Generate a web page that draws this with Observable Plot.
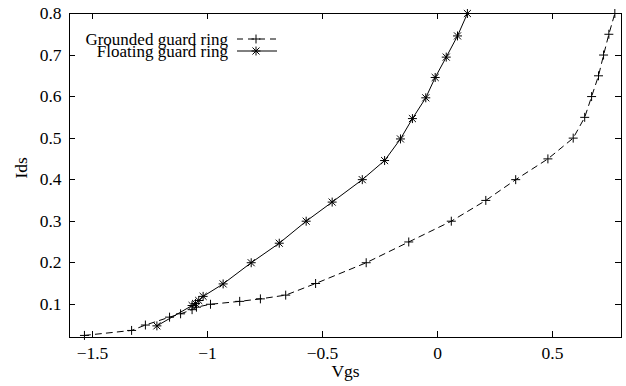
<!DOCTYPE html>
<html><head><meta charset="utf-8">
<script src="https://cdn.jsdelivr.net/npm/d3@7"></script>
<script src="https://cdn.jsdelivr.net/npm/@observablehq/plot@0.6"></script>
<style>body{margin:0;background:#fff} svg{display:block}</style>
</head><body><div id="chart"></div>
<script>
const seriesNames = ["Grounded guard ring", "Floating guard ring"];
const groundedVgs = [-1.535, -1.33, -1.27, -1.165, -1.117, -1.067, -1.048, -0.987, -0.86, -0.77, -0.66, -0.53, -0.31, -0.125, 0.06, 0.21, 0.34, 0.48, 0.59, 0.64, 0.67, 0.70, 0.722, 0.745, 0.771];
const groundedIds = [0.025, 0.037, 0.05, 0.069, 0.077, 0.087, 0.093, 0.10, 0.107, 0.113, 0.122, 0.15, 0.20, 0.25, 0.30, 0.35, 0.40, 0.45, 0.50, 0.55, 0.60, 0.65, 0.70, 0.75, 0.80];
const floatingVgs = [-1.22, -1.067, -1.052, -1.038, -1.019, -0.932, -0.81, -0.688, -0.571, -0.458, -0.327, -0.23, -0.161, -0.109, -0.051, -0.01, 0.038, 0.087, 0.13];
const floatingIds = [0.048, 0.097, 0.102, 0.109, 0.119, 0.149, 0.20, 0.247, 0.30, 0.346, 0.40, 0.446, 0.498, 0.547, 0.597, 0.646, 0.695, 0.746, 0.80];
const xTicks = [-1.5, -1, -0.5, 0, 0.5];
const xTickLabels = ["−1.5", "−1", "−0.5", "0", "0.5"];
const yTicks = [0.1, 0.2, 0.3, 0.4, 0.5, 0.6, 0.7, 0.8];
const yTickLabels = ["0.1", "0.2", "0.3", "0.4", "0.5", "0.6", "0.7", "0.8"];
const xDomain = [-1.6, 0.8];
const yDomain = [0.02, 0.8];
const xLabel = "Vgs";
const yLabel = "Ids";

const grounded = groundedVgs.map((v, i) => ({Vgs: v, Ids: groundedIds[i]}));
const floating = floatingVgs.map((v, i) => ({Vgs: v, Ids: floatingIds[i]}));

const font = "Liberation Serif, Times New Roman, serif";
const dash = "6,5";
const tickLen = 6;

function frameTicks(index, scales, values, dims) {
  const {width, height, marginLeft, marginRight, marginTop, marginBottom} = dims;
  const x0 = marginLeft, x1 = width - marginRight, y0 = marginTop, y1 = height - marginBottom;
  const g = d3.create("svg:g").attr("stroke", "black").attr("stroke-width", 1).attr("fill", "none");
  for (const t of xTicks) {
    const x = Math.round(scales.x(t)) + 0.5;
    g.append("line").attr("x1", x).attr("x2", x).attr("y1", y1).attr("y2", y1 - tickLen);
    g.append("line").attr("x1", x).attr("x2", x).attr("y1", y0).attr("y2", y0 + tickLen);
  }
  for (const t of yTicks) {
    const y = Math.round(scales.y(t)) + 0.5;
    g.append("line").attr("y1", y).attr("y2", y).attr("x1", x0).attr("x2", x0 + tickLen);
    g.append("line").attr("y1", y).attr("y2", y).attr("x1", x1).attr("x2", x1 - tickLen);
  }
  return g.node();
}

function legend(index, scales, values, dims) {
  const {marginLeft, marginTop} = dims;
  const g = d3.create("svg:g").attr("font-family", font).attr("font-size", 17);
  const textX = marginLeft + 159, lx1 = marginLeft + 168, lx2 = marginLeft + 208, mx = marginLeft + 187;
  const rows = [marginTop + 26, marginTop + 38];
  seriesNames.forEach((name, i) => {
    const y = rows[i];
    g.append("text").attr("x", textX).attr("y", y + 6).attr("text-anchor", "end").attr("fill", "black").text(name);
    g.append("line").attr("x1", lx1).attr("x2", lx2).attr("y1", y).attr("y2", y)
      .attr("stroke", "black").attr("stroke-dasharray", i === 0 ? dash : null);
    const s = g.append("g").attr("transform", `translate(${mx},${y})`).attr("stroke", "black").attr("fill", "none");
    s.append("path").attr("d", d3.symbol(d3.symbolPlus, 28)());
    if (i === 1) s.append("path").attr("d", d3.symbol(d3.symbolTimes, 34)());
  });
  return g.node();
}

const plot = Plot.plot({
  width: 626,
  height: 386,
  marginLeft: 69,
  marginRight: 5,
  marginTop: 13,
  marginBottom: 49,
  style: {fontFamily: font, fontSize: "17px", color: "black", background: "white"},
  x: {domain: xDomain, label: null},
  y: {domain: yDomain, label: null},
  marks: [
    Plot.axisX({ticks: xTicks, tickFormat: d => xTickLabels[xTicks.indexOf(d)], tickSize: 0, tickPadding: 9, label: null, fontSize: 17.5, fontFamily: font}),
    Plot.axisY({ticks: yTicks, tickFormat: d => yTickLabels[yTicks.indexOf(d)], tickSize: 0, tickPadding: 8, label: null, fontSize: 17.5, fontFamily: font}),
    Plot.frame({stroke: "black", strokeWidth: 1}),
    frameTicks,
    Plot.line(grounded, {x: "Vgs", y: "Ids", stroke: "black", strokeWidth: 1, strokeDasharray: dash}),
    Plot.dot(grounded, {x: "Vgs", y: "Ids", symbol: "plus", r: 3, stroke: "black", strokeWidth: 1}),
    Plot.line(floating, {x: "Vgs", y: "Ids", stroke: "black", strokeWidth: 1}),
    Plot.dot(floating, {x: "Vgs", y: "Ids", symbol: "plus", r: 3, stroke: "black", strokeWidth: 1}),
    Plot.dot(floating, {x: "Vgs", y: "Ids", symbol: "times", r: 3.3, stroke: "black", strokeWidth: 1}),
    Plot.text([xLabel], {frameAnchor: "bottom", dy: 39, text: d => d, fontSize: 17.5, fontFamily: font, fill: "black"}),
    Plot.text([yLabel], {frameAnchor: "left", dx: -48, dy: 3, rotate: -90, text: d => d, fontSize: 17.5, fontFamily: font, fill: "black"}),
    legend
  ]
});
document.getElementById("chart").append(plot);
</script>
</body></html>
